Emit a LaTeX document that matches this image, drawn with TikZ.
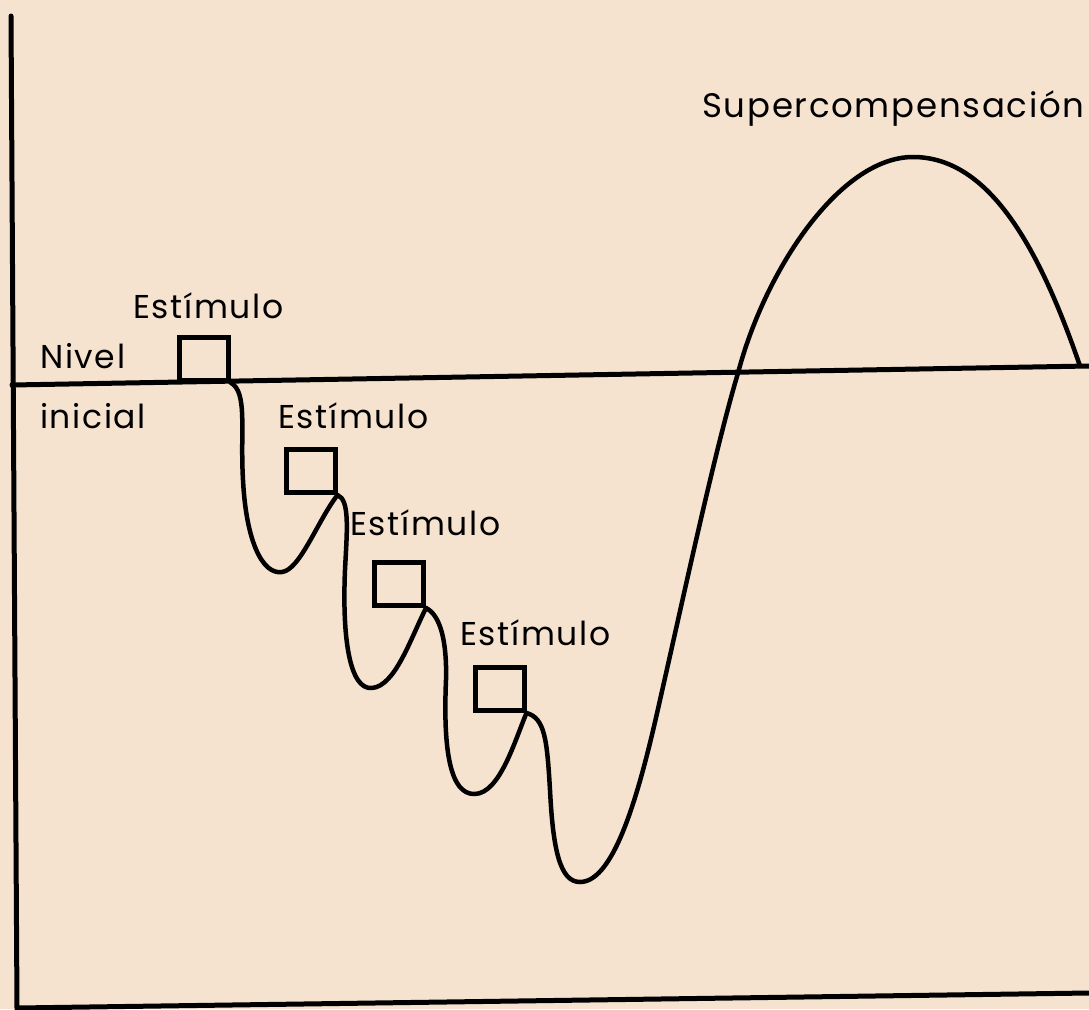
\documentclass[tikz,border=0pt]{standalone}
\usepackage{fontspec}
\newfontfamily\gfont[LetterSpace=5]{Poppins}
\definecolor{paper}{RGB}{245,227,208}
\begin{document}
\begin{tikzpicture}[x=1pt,y=-1pt,
  axis/.style={line width=5pt,line cap=round},
  curve/.style={line width=4.5pt,line cap=round,line join=round},
  stimbox/.style={draw,line width=5pt,minimum width=49pt,minimum height=43pt,inner sep=0pt},
  lbl/.style={anchor=base west,inner sep=0pt,font=\gfont\fontsize{33}{38}\selectfont}]
\fill[paper] (0,0) rectangle (1089,1009);
\useasboundingbox (0,0) rectangle (1089,1009);
% axes
\coordinate (ytop) at (11,16);
\coordinate (orig) at (17,1008);
\coordinate (xend) at (1089,993);
\coordinate (bl) at (12,385);
\coordinate (br) at (1089,366);
\draw[axis] (ytop) -- (orig) -- (xend);
\draw[axis] (bl) -- (br);
% boxes
\node[stimbox] (b1) at (203.5,358.5) {};
\node[stimbox] (b2) at (310.5,471) {};
\node[stimbox] (b3) at (399,584) {};
\node[stimbox] (b4) at (499.5,689) {};
% labels
\node[lbl] (e1) at (133,318) {Estímulo};
\node[lbl] (e2) at (278,428) {Estímulo};
\node[lbl] (e3) at (350,535) {Estímulo};
\node[lbl] (e4) at (460,645) {Estímulo};
\node[lbl] (niv) at (40,368) {Nivel};
\node[lbl] (ini) at (40,428) {inicial};
\node[lbl,font=\gfont\fontsize{34}{40}\selectfont] (sup) at (702,117) {Supercompensación};
% curve
\draw[curve] (b1.south east)
  .. controls (248,392) and (240,430) .. (243,480)
  .. controls (246,540) and (262,575) .. (282,572)
  .. controls (300,570) and (318,520) .. (b2.south east);
\draw[curve] (b2.south east)
  .. controls (350,500) and (347,530) .. (345,570)
  .. controls (342,640) and (350,690) .. (372,688)
  .. controls (395,686) and (410,640) .. (b3.south east);
\draw[curve] (b3.south east)
  .. controls (440,615) and (447,640) .. (446,680)
  .. controls (443,750) and (450,795) .. (475,794)
  .. controls (500,793) and (515,740) .. (b4.south east);
\draw[curve] (b4.south east)
  .. controls (545,718) and (547,740) .. (550,790)
  .. controls (553,850) and (560,882) .. (580,882)
  .. controls (615,882) and (640,790) .. (660,700)
  .. controls (685,590) and (715,450) .. (738,373)
  .. controls (765,270) and (840,157) .. (913,157)
  .. controls (990,157) and (1040,250) .. (1080,366);
\end{tikzpicture}
\end{document}
